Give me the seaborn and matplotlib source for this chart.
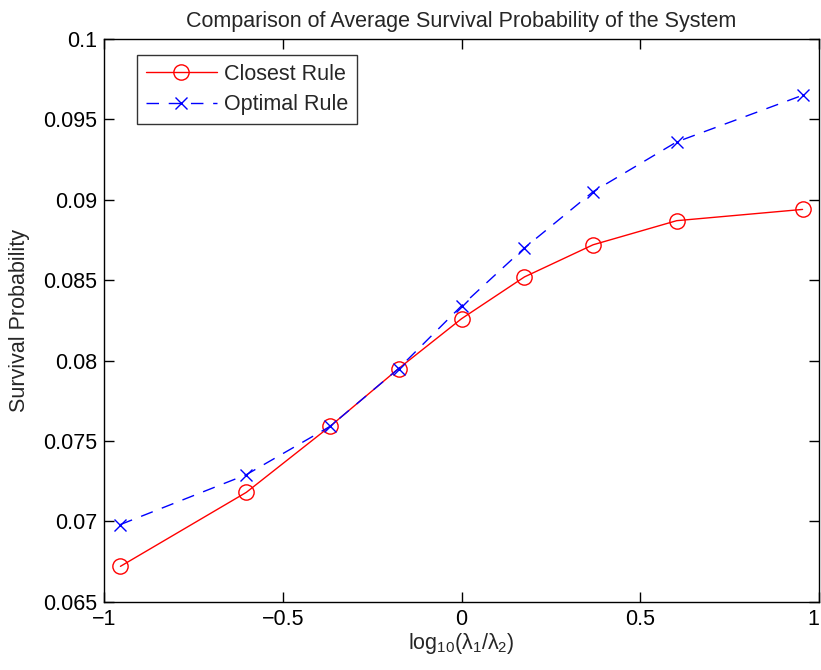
import numpy as np
import pandas as pd
import matplotlib
matplotlib.use("Agg")
import matplotlib.pyplot as plt
import seaborn as sns

x_vals = [-0.954, -0.602, -0.368, -0.176, 0.0, 0.176, 0.368, 0.602, 0.954]
closest = [0.0672, 0.0718, 0.0759, 0.0795, 0.0826, 0.0852, 0.0872, 0.0887, 0.0894]
optimal = [0.0698, 0.0729, 0.0759, 0.0795, 0.0834, 0.0870, 0.0905, 0.0936, 0.0965]
x_ticks = [-1, -0.5, 0, 0.5, 1]
x_ticklabels = ["\u22121", "\u22120.5", "0", "0.5", "1"]
y_ticks = [0.065, 0.07, 0.075, 0.08, 0.085, 0.09, 0.095, 0.1]
y_ticklabels = ["0.065", "0.07", "0.075", "0.08", "0.085", "0.09", "0.095", "0.1"]

sns.set_theme(style="white")
plt.rcParams['font.family'] = ['Liberation Sans', 'DejaVu Sans']
plt.rcParams['mathtext.fontset'] = 'custom'
plt.rcParams['mathtext.rm'] = 'Liberation Sans'
plt.rcParams['mathtext.it'] = 'Liberation Sans'

FS = 15.5

df_c = pd.DataFrame({"x": x_vals, "y": closest})
df_o = pd.DataFrame({"x": x_vals, "y": optimal})

fig = plt.figure(figsize=(8.21, 6.70), dpi=100)
ax = fig.add_axes([104 / 821, 68.3 / 670, 715 / 821, 562.7 / 670])

sns.lineplot(data=df_c, x="x", y="y", ax=ax, color="red", linewidth=1.0,
             marker="o", markersize=11, markerfacecolor="none",
             markeredgecolor="red", markeredgewidth=1.0, label="Closest Rule")
sns.lineplot(data=df_o, x="x", y="y", ax=ax, color="blue", linewidth=1.0,
             marker="x", markersize=8, markeredgecolor="blue",
             markeredgewidth=1.0, label="Optimal Rule", dashes=False)
ax.lines[1].set_dashes([9, 7])

ax.set_xlim(-1, 1)
ax.set_ylim(0.065, 0.1)
ax.set_xticks(x_ticks)
ax.set_xticklabels(x_ticklabels)
ax.set_yticks(y_ticks)
ax.set_yticklabels(y_ticklabels)
ax.tick_params(direction="in", length=7, width=1, labelsize=FS, colors="black",
               top=True, right=True, bottom=True, left=True, pad=5)
ax.get_xticklabels()[-1].set_horizontalalignment("right")
for s in ax.spines.values():
    s.set_color("black")
    s.set_linewidth(1.0)

ax.set_xlabel(r"log$_{10}$($\lambda_1$/$\lambda_2$)", fontsize=FS, labelpad=1)
ax.set_ylabel("Survival Probability", fontsize=FS, labelpad=9)
ax.set_title("Comparison of Average Survival Probability of the System",
             fontsize=FS, pad=9)

leg = ax.legend(loc="upper left", bbox_to_anchor=(0.046, 0.9716), fontsize=FS,
                frameon=True, fancybox=False, edgecolor="black",
                borderaxespad=0, handlelength=3.3, borderpad=0.4,
                labelspacing=0.45, handletextpad=0.33)
leg.get_frame().set_linewidth(1.0)

fig.savefig("out.png", dpi=100, facecolor="white")
